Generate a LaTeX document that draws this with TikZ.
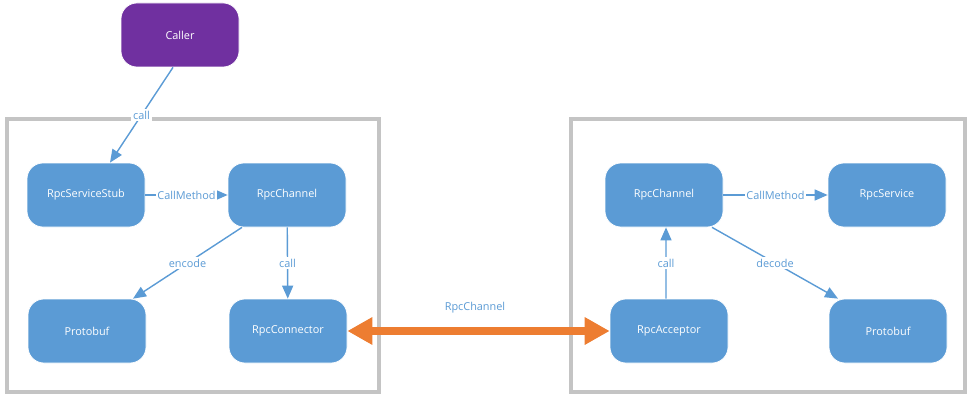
\documentclass[tikz,border=0pt]{standalone}
\usepackage{fontspec}
\setmainfont{Open Sans}
\usetikzlibrary{arrows.meta}

\definecolor{boxblue}{HTML}{5B9BD5}
\definecolor{callerpurple}{HTML}{7030A0}
\definecolor{linkorange}{HTML}{ED7D31}
\definecolor{framegray}{HTML}{C4C4C4}

\tikzset{
  rpcbox/.style={draw=white, fill=boxblue, rounded corners=0.32cm, minimum width=2.36cm,
    minimum height=1.28cm, text=white, font=\fontsize{6.2}{7}\selectfont},
  flow/.style={draw=boxblue, line width=0.8pt, -{Triangle[length=0.26cm, width=0.22cm]}},
  flowlabel/.style={fill=white, text=boxblue, inner sep=1pt, font=\fontsize{6.2}{7}\selectfont},
  frame/.style={draw=framegray, line width=1.8pt}
}

\begin{document}
\begin{tikzpicture}
    \useasboundingbox (0,0) rectangle (19.44,8.08);

    % Client and server frames
    \draw[frame] (0.14,0.24) rectangle (7.58,5.70);
    \draw[frame] (11.42,0.24) rectangle (19.30,5.70);

    % Caller
    \node[rpcbox, fill=callerpurple] (caller) at (3.60,7.38) {Caller};

    % Client side
    \node[rpcbox] (stub) at (1.72,4.18) {RpcServiceStub};
    \node[rpcbox] (chanL) at (5.74,4.18) {RpcChannel};
    \node[rpcbox] (protoL) at (1.74,1.46) {Protobuf};
    \node[rpcbox] (connector) at (5.76,1.46) {RpcConnector};

    % Server side
    \node[rpcbox] (chanR) at (13.28,4.18) {RpcChannel};
    \node[rpcbox] (service) at (17.74,4.18) {RpcService};
    \node[rpcbox] (acceptor) at (13.38,1.46) {RpcAcceptor};
    \node[rpcbox] (protoR) at (17.76,1.46) {Protobuf};

    % Client connectors
    \draw[flow] ([xshift=-0.14cm]caller.south) -- node[flowlabel, pos=0.5] {call} ([xshift=0.48cm]stub.north);
    \draw[flow] (stub) -- node[flowlabel] {CallMethod} (chanL);
    \draw[flow] ([xshift=-0.9cm]chanL.south) -- node[flowlabel] {encode} ([xshift=0.92cm]protoL.north);
    \draw[flow] (chanL) -- node[flowlabel] {call} (connector);

    % Server connectors
    \draw[flow] (chanR) -- node[flowlabel] {CallMethod} (service);
    \draw[flow] ([xshift=-0.06cm]acceptor.north) -- node[flowlabel] {call} ([xshift=0.04cm]chanR.south);
    \draw[flow] ([xshift=0.96cm]chanR.south) -- node[flowlabel] {decode} ([xshift=-1.0cm]protoR.north);

    % Link between both sides
    \draw[draw=linkorange, line width=5pt, {Triangle[length=0.5cm, width=0.52cm]}-{Triangle[length=0.5cm, width=0.52cm]}]
        (connector) -- (acceptor);
    \node[flowlabel] (link) at (9.50,1.92) {RpcChannel};
\end{tikzpicture}
\end{document}
